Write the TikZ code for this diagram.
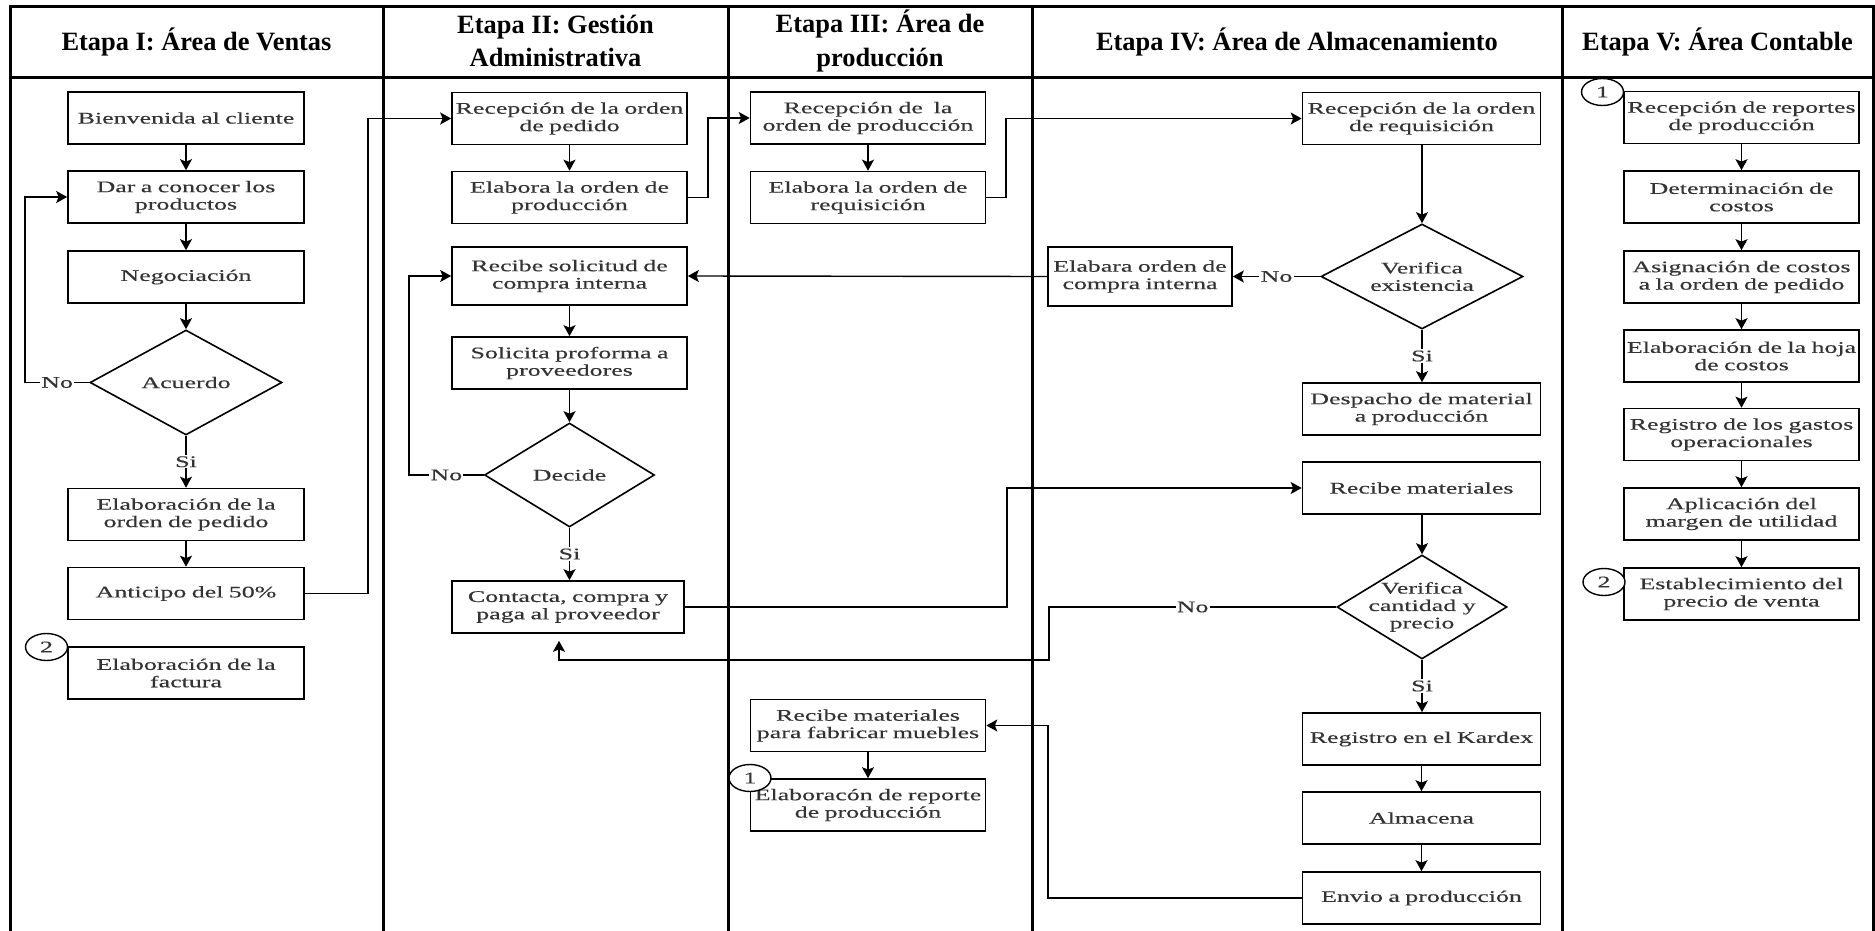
\documentclass[tikz,border=0pt]{standalone}
\usepackage{fontspec}
\setmainfont{Liberation Serif}
\newfontfamily\bxfont[FakeStretch=1.6,FakeBold=0.3]{Liberation Serif}
\usetikzlibrary{shapes.geometric,arrows.meta,calc}
\begin{document}
\begin{tikzpicture}[x=0.5pt,y=-0.5pt,
  hdr/.style={font=\fontsize{13.2}{16.7}\selectfont\bfseries, align=center, inner sep=0pt},
  proc/.style={draw, line width=0.8pt, fill=white, inner sep=0pt, text width=#1,
    minimum height=26pt, align=center, text=black!80, font=\bxfont\fontsize{8.1}{8.7}\selectfont},
  proc/.default=117.5pt,
  dec/.style n args={2}{draw, diamond, line width=0.8pt, inner sep=0pt, minimum width=#1, minimum height=#2},
  dtxt/.style={align=center, inner sep=0pt, text=black!80, font=\bxfont\fontsize{8.1}{8.7}\selectfont},
  lbl/.style={fill=white, inner sep=0.6pt, text=black!80, font=\bxfont\fontsize{8.1}{8.7}\selectfont},
  arr/.style={-{Stealth[length=5.5pt,width=6pt,inset=1.2pt]}, line width=0.7pt},
  grid/.style={line width=1.5pt},
  circ/.style={draw, ellipse, line width=0.7pt, fill=white, minimum width=21pt, minimum height=13.5pt,
    inner sep=0pt, text=black!80, font=\bxfont\fontsize{8.1}{8.7}\selectfont}
]
\useasboundingbox (0,0) rectangle (1875,931);

% ---- table grid
\draw[grid] (10,931) -- (10,7) -- (1873,7) -- (1873,931);
\draw[grid] (10,77.5) -- (1873,77.5);
\foreach \xx in {383,728,1032,1562} \draw[grid] (\xx,7) -- (\xx,931);

% ---- headers
\node[hdr] (h1) at (196.5,42) {Etapa I: Área de Ventas};
\node[hdr] (h2) at (555.5,41) {Etapa II: Gestión\\Administrativa};
\node[hdr] (h3) at (880,41) {Etapa III: Área de\\producción};
\node[hdr] (h4) at (1297,42) {Etapa IV: Área de Almacenamiento};
\node[hdr] (h5) at (1717.5,42) {Etapa V: Área Contable};

% ---- column 1
\node[proc=118pt] (bien) at (186,118) {Bienvenida al cliente};
\node[proc=118pt] (dar) at (186,197) {Dar a conocer los\\productos};
\node[proc=118pt] (neg) at (186,277) {Negociación};
\node[dec={96pt}{52.5pt}] (acu) at (186,382.5) {};
\node[dtxt] (acuT) at (acu) {Acuerdo};
\node[proc=118pt] (elabped) at (186,514.5) {Elaboración de la\\orden de pedido};
\node[proc=118pt] (anticipo) at (186,593.5) {Anticipo del 50\%};
\node[proc=118pt] (factura) at (186,673) {Elaboración de la\\factura};

% ---- column 2
\node[proc] (recped) at (569.5,118.5) {Recepción de la orden\\de pedido};
\node[proc] (elabprod) at (569.5,197.5) {Elabora la orden de\\producción};
\node[proc, minimum height=29pt] (recsol) at (569.5,276) {Recibe solicitud de\\compra interna};
\node[proc] (solicita) at (569.5,363) {Solicita proforma a\\proveedores};
\node[dec={85pt}{52pt}] (decide) at (569.5,475) {};
\node[dtxt] (decideT) at (decide) {Decide};
\node[proc=116pt] (contacta) at (568,607) {Contacta, compra y\\paga al proveedor};

% ---- column 3
\node[proc] (recprod) at (868,118) {Recepción de\ \ la\\orden de producción};
\node[proc] (elabreq) at (868,197.5) {Elabora la orden de\\requisición};
\node[proc] (recmueb) at (868,725.5) {Recibe materiales\\para fabricar muebles};
\node[proc] (elabrep) at (868,805) {Elaboracón de reporte\\de producción};

% ---- column 4
\node[proc=119pt] (recreq) at (1421.5,118.5) {Recepción de la orden\\de requisición};
\node[dec={101pt}{52.5pt}] (verex) at (1422,276.5) {};
\node[dtxt] (verexT) at (verex) {Verifica\\existencia};
\node[proc=92pt, minimum height=29.5pt] (elabara) at (1140,276.5) {Elabara orden de\\compra interna};
\node[proc=119pt] (despacho) at (1421.5,409) {Despacho de material\\a producción};
\node[proc=119pt] (recmat) at (1421.5,488) {Recibe materiales};
\node[dec={85pt}{52pt}] (vercant) at (1422,607) {};
\node[dtxt] (vercantT) at (vercant) {Verifica\\cantidad y\\precio};
\node[proc=119pt] (kardex) at (1421.5,739) {Registro en el Kardex};
\node[proc=119pt] (almacena) at (1421.5,818) {Almacena};
\node[proc=119pt] (envio) at (1421.5,898) {Envio a producción};

% ---- column 5
\node[proc] (r1) at (1741.5,117.5) {Recepción de reportes\\de producción};
\node[proc] (r2) at (1741.5,197) {Determinación de\\costos};
\node[proc] (r3) at (1741.5,277) {Asignación de costos\\a la orden de pedido};
\node[proc] (r4) at (1741.5,356) {Elaboración de la hoja\\de costos};
\node[proc] (r5) at (1741.5,434.5) {Registro de los gastos\\operacionales};
\node[proc] (r6) at (1741.5,514) {Aplicación del\\margen de utilidad};
\node[proc] (r7) at (1741.5,594) {Establecimiento del\\precio de venta};

% ---- connector bend points
\coordinate (kA) at (25,0);
\coordinate (kB) at (368,0);
\coordinate (kC) at (708,0);
\coordinate (kD) at (1006,0);
\coordinate (kE) at (409,0);
\coordinate (kF) at (1007,0);
\coordinate (kG) at (1049,0);
\coordinate (kH) at (559,660);
\coordinate (kI) at (1048,0);

% ---- column 1 connectors
\draw[arr] (bien) -- (dar);
\draw[arr] (dar) -- (neg);
\draw[arr] (neg) -- (acu);
\draw[arr] (acu) -- node[lbl]{Si} (elabped);
\draw[arr] (acu.west) -- node[lbl]{No} (acu.west -| kA) |- (dar.west);
\draw[arr] (elabped) -- (anticipo);
\draw[arr] (anticipo.east) -| (kB |- recped.west) -- (recped.west);

% ---- column 2 connectors
\draw[arr] (recped) -- (elabprod);
\draw[arr] (elabprod.east) -| (kC |- recprod.west) -- (recprod.west);
\draw[arr] (recsol) -- (solicita);
\draw[arr] (solicita) -- (decide);
\draw[arr] (decide.south) -- node[lbl]{Si} (decide.south |- contacta.north);
\draw[arr] (decide.west) -- node[lbl]{No} (decide.west -| kE) |- (recsol.west);
\draw[arr] (contacta.east) -| (kF |- recmat.west) -- (recmat.west);

% ---- column 3 connectors
\draw[arr] (recprod) -- (elabreq);
\draw[arr] (elabreq.east) -| (kD |- recreq.west) -- (recreq.west);
\draw[arr] (recmueb) -- (elabrep);

% ---- column 4 connectors
\draw[arr] (recreq.south -| verex.north) -- (verex.north);
\draw[arr] (verex.west) -- node[lbl]{No} (elabara.east);
\draw[arr] (elabara.west) -- (recsol.east);
\draw[arr] (verex.south) -- node[lbl]{Si} (verex.south |- despacho.north);
\draw[arr] (recmat.south -| vercant.north) -- (vercant.north);
\draw[arr] (vercant.south) -- node[lbl]{Si} (vercant.south |- kardex.north);
\draw[arr] (kardex) -- (almacena);
\draw[arr] (almacena) -- (envio);
\draw[arr, shorten >=3.5pt] (vercant.west) -- node[lbl]{No} (vercant.west -| kG) |- (kH) -- (kH |- contacta.south);
\draw[arr] (envio.west) -| (kI |- recmueb.east) -- (recmueb.east);

% ---- column 5 connectors
\draw[arr] (r1) -- (r2);
\draw[arr] (r2) -- (r3);
\draw[arr] (r3) -- (r4);
\draw[arr] (r4) -- (r5);
\draw[arr] (r5) -- (r6);
\draw[arr] (r6) -- (r7);

% ---- connector circles
\node[circ] (c2a) at (46.5,647) {2};
\node[circ] (c1a) at (750,778) {1};
\node[circ] (c1b) at (1602.5,92) {1};
\node[circ] (c2b) at (1604,582) {2};
\end{tikzpicture}
\end{document}
